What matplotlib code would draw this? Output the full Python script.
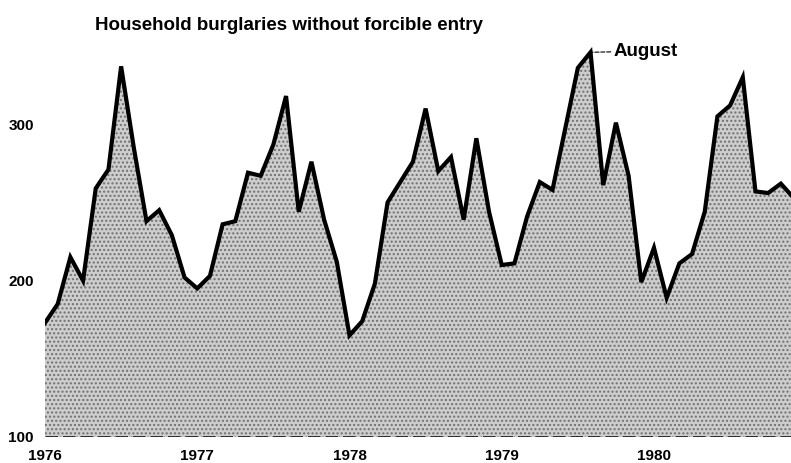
import numpy as np
import matplotlib
matplotlib.use('Agg')
import matplotlib.pyplot as plt

# monthly counts, Jan 1976 .. Dec 1980
burglaries = [173, 185, 215, 200, 259, 271, 337, 285, 238, 245, 229, 202,
              195, 203, 236, 238, 269, 267, 287, 318, 244, 276, 239, 212,
              165, 174, 198, 250, 263, 276, 310, 270, 279, 239, 291, 244,
              210, 211, 241, 263, 258, 297, 336, 346, 261, 301, 267, 199,
              221, 189, 211, 217, 244, 305, 312, 330, 257, 256, 262, 253]
year_labels = ['1976', '1977', '1978', '1979', '1980']
year_months = [0, 12, 24, 36, 48]
y_ticks = [100, 200, 300]
peak_month = 43  # August 1979

months = np.arange(len(burglaries))
font_lab = 11
font_title = 13.5

plt.rcParams['font.family'] = ['Liberation Sans', 'DejaVu Sans']
plt.rcParams['font.weight'] = 'bold'

fig = plt.figure(figsize=(7.91, 4.63), dpi=100)
ax = fig.add_axes([45 / 791, 26 / 463, 1 - 45 / 791, 391 / 463])

# stippled area under the line
ax.fill_between(months, 100, burglaries, facecolor='#cdcdcd', edgecolor='#707070',
                hatch='....', linewidth=0, zorder=1)
ax.plot(months, burglaries, color='black', linewidth=3, solid_joinstyle='miter', zorder=3)
# dashed base line at 100
ax.axhline(100, color='black', linewidth=1.8, linestyle=(0, (5, 2)), zorder=4)

ax.annotate('August', xy=(peak_month, burglaries[peak_month]), xytext=(23, 1),
            textcoords='offset pixels', ha='left', va='center', fontsize=font_title,
            fontweight='bold',
            arrowprops=dict(arrowstyle='-', color='black', linewidth=0.8, linestyle='--',
                            shrinkA=0, shrinkB=0))

ax.set_xlim(0, 58.8)
ax.set_ylim(100, 350)
ax.set_xticks(year_months)
ax.set_xticklabels(year_labels)
ax.set_yticks(y_ticks)
ax.tick_params(axis='both', length=0, labelsize=font_lab)
ax.tick_params(axis='x', pad=9)
ax.tick_params(axis='y', pad=8)
for s in ax.spines.values():
    s.set_visible(False)
ax.patch.set_alpha(0)

fig.text(95 / 791, (463 - 30) / 463, 'Household burglaries without forcible entry',
         fontsize=font_title, fontweight='bold', ha='left', va='baseline')

fig.savefig('out.png', dpi=100)
